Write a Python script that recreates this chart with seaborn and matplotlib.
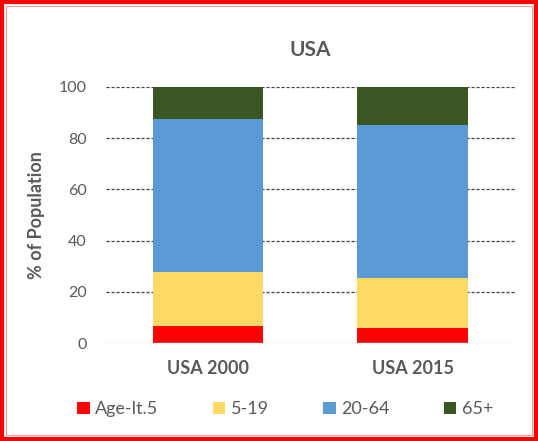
# Stacked population shares by age group, USA 2000 vs 2015

import matplotlib.pyplot as plt
from matplotlib.patches import Patch, Rectangle
import numpy as np
import seaborn as sns

categories = ['USA 2000', 'USA 2015']
groups = ['Age-lt.5', '5-19', '20-64', '65+']
age_lt5 = [6.7, 5.8]
age_5_19 = [21.2, 19.7]
age_20_64 = [59.6, 59.7]
age_65 = [12.5, 14.8]
colors = ['#FF0000', '#FFD966', '#5B9BD5', '#3A5723']

sns.set_style('white')
plt.rcParams['font.family'] = ['Lato', 'DejaVu Sans']

fig = plt.figure(figsize=(5.38, 4.41), dpi=100)
ax = fig.add_axes([0.197, 0.222, 0.76, 0.581])

# stack by drawing cumulative totals, tallest first
stack = np.cumsum(np.array([age_lt5, age_5_19, age_20_64, age_65]), axis=0)
for i in range(len(groups) - 1, -1, -1):
    sns.barplot(x=categories, y=stack[i], color=colors[i], width=0.54,
                saturation=1, linewidth=0, ax=ax, zorder=3)

ax.set_ylim(0, 100)
ax.set_xlim(-0.5, 1.5)
ax.set_yticks([0, 20, 40, 60, 80, 100])
for y in [20, 40, 60, 80, 100]:
    ax.axhline(y, color='#404040', linestyle=(0, (2.5, 1.5)), linewidth=0.9, zorder=1)
ax.axhline(0, color='#d9d9d9', linewidth=1, zorder=4)
sns.despine(ax=ax, left=True, bottom=True, top=True, right=True)

ax.tick_params(axis='y', length=0, labelsize=11.5, labelcolor='#595959', pad=14)
ax.tick_params(axis='x', length=0, labelsize=13, labelcolor='#595959', pad=12)
for lbl in ax.get_xticklabels():
    lbl.set_fontweight('bold')
ax.set_ylabel('% of Population', fontsize=13, fontweight='bold', color='#595959', labelpad=10)
ax.set_xlabel('')
ax.set_title('USA', fontsize=15, fontweight='bold', color='#595959', pad=22)

handles = [Patch(facecolor=c, edgecolor='none') for c in colors]
fig.legend(handles, groups, loc='center', bbox_to_anchor=(0.53, 0.072), ncol=4,
           frameon=False, fontsize=13, handlelength=0.7, handleheight=0.7,
           handletextpad=0.3, columnspacing=3.0, labelcolor='#595959')

# red frame around the whole chart
fig.patches.append(Rectangle((0.003, 0.004), 0.994, 0.992, transform=fig.transFigure,
                             fill=False, edgecolor='#FF0000', linewidth=3))
fig.patches.append(Rectangle((0.012, 0.013), 0.976, 0.974, transform=fig.transFigure,
                             fill=False, edgecolor='#FF9999', linewidth=0.8))

fig.savefig('out.png', dpi=100)
